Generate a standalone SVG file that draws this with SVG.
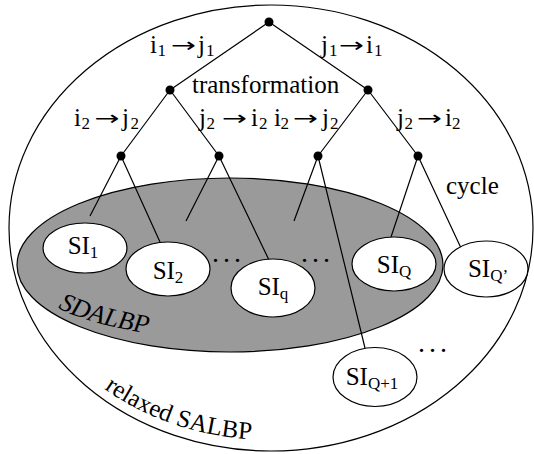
<svg xmlns="http://www.w3.org/2000/svg" width="534" height="454" viewBox="0 0 534 454">
<defs>
<style>
text{font-family:"Liberation Serif","Times New Roman",serif;font-size:25px;fill:#000}
.sub{font-size:17px}
.it{font-style:italic;font-size:26px}
.ar{font-family:"DejaVu Sans",sans-serif;font-size:20px}
.ln{stroke:#000;stroke-width:1.2;fill:none}
.si{fill:#fff;stroke:#000;stroke-width:1.2}
.dot{fill:#000}
.dots{letter-spacing:4px;font-size:28px}
</style>
<path id="pSD" d="M 58 308 A 211 74 0 0 0 230 339"/>
<path id="pRS" d="M 104 388.7 A 256 212 0 0 0 330 434.3"/>
</defs>
<g id="relaxed-SALBP">
<ellipse cx="271" cy="228" rx="262" ry="223" fill="none" stroke="#000" stroke-width="1.2"/>
<text><textPath href="#pRS" startOffset="0">relaxed SALBP</textPath></text>
</g>
<g id="SDALBP">
<ellipse cx="230" cy="265" rx="213" ry="87" fill="#9a9a9a" stroke="#000" stroke-width="1.2"/>
<text class="it"><textPath href="#pSD" startOffset="0">SDALBP</textPath></text>
</g>
<g id="connectors">
<path class="ln" d="M269 22 L170 90 M269 22 L368 90"/>
<path class="ln" d="M170 90 L121 156 M170 90 L219 156 M368 90 L318 156 M368 90 L418 156"/>
<path class="ln" d="M121 156 L90 216 M121 156 L160 242"/>
<path class="ln" d="M219 156 L186 221 M219 156 L269 260"/>
<path class="ln" d="M318 156 L294 221 M318 156 L365 348"/>
<path class="ln" d="M418 156 L391 237 M418 156 L461 248"/>
</g>
<g id="tree-nodes">
<circle class="dot" cx="269" cy="22" r="4.5"/>
<circle class="dot" cx="170" cy="90" r="4.5"/>
<circle class="dot" cx="368" cy="90" r="4.5"/>
<circle class="dot" cx="121" cy="156" r="4.5"/>
<circle class="dot" cx="219" cy="156" r="4.5"/>
<circle class="dot" cx="318" cy="156" r="4.5"/>
<circle class="dot" cx="418" cy="156" r="4.5"/>
</g>
<g id="SI1"><ellipse class="si" cx="85" cy="248" rx="42" ry="25"/><text x="83" y="254" text-anchor="middle">SI<tspan class="sub" dy="4">1</tspan></text></g>
<g id="SI2"><ellipse class="si" cx="168" cy="269" rx="42" ry="27"/><text x="168" y="279" text-anchor="middle">SI<tspan class="sub" dy="4">2</tspan></text></g>
<g id="SIq"><ellipse class="si" cx="273" cy="288" rx="42" ry="29"/><text x="273" y="295" text-anchor="middle">SI<tspan class="sub" dy="4">q</tspan></text></g>
<g id="SIQ"><ellipse class="si" cx="394" cy="264" rx="42" ry="27"/><text x="394" y="273" text-anchor="middle">SI<tspan class="sub" dy="4">Q</tspan></text></g>
<g id="SIQp"><ellipse class="si" cx="486" cy="269" rx="42" ry="28"/><text x="488" y="277" text-anchor="middle">SI<tspan class="sub" dy="4">Q’</tspan></text></g>
<g id="SIQ1"><ellipse class="si" cx="375" cy="377" rx="42" ry="29.5"/><text x="372" y="385" text-anchor="middle">SI<tspan class="sub" dy="4">Q+1</tspan></text></g>
<g id="labels">
<text><tspan x="150" y="53">i</tspan><tspan class="sub" x="157.5" y="56">1</tspan><tspan x="198" y="53">j</tspan><tspan class="sub" x="206" y="56">1</tspan></text>
<text class="ar" x="171" y="52" textLength="25" lengthAdjust="spacingAndGlyphs">→</text>
<text><tspan x="321" y="53">j</tspan><tspan class="sub" x="329" y="56">1</tspan><tspan x="366" y="53">i</tspan><tspan class="sub" x="374" y="56">1</tspan></text>
<text class="ar" x="339" y="52" textLength="25" lengthAdjust="spacingAndGlyphs">→</text>
<text x="192" y="93">transformation</text>
<text><tspan x="74" y="126">i</tspan><tspan class="sub" x="81.5" y="129">2</tspan><tspan x="122" y="126">j</tspan><tspan class="sub" x="130.5" y="129">2</tspan></text>
<text class="ar" x="94.5" y="125" textLength="25" lengthAdjust="spacingAndGlyphs">→</text>
<text><tspan x="199" y="126">j</tspan><tspan class="sub" x="206.5" y="129">2</tspan><tspan x="251" y="126">i</tspan><tspan class="sub" x="259" y="129">2</tspan></text>
<text class="ar" x="222" y="125" textLength="25" lengthAdjust="spacingAndGlyphs">→</text>
<text><tspan x="274" y="126">i</tspan><tspan class="sub" x="280.5" y="129">2</tspan><tspan x="322" y="126">j</tspan><tspan class="sub" x="330" y="129">2</tspan></text>
<text class="ar" x="293" y="125" textLength="25" lengthAdjust="spacingAndGlyphs">→</text>
<text><tspan x="397" y="126">j</tspan><tspan class="sub" x="404.5" y="129">2</tspan><tspan x="445" y="126">i</tspan><tspan class="sub" x="452" y="129">2</tspan></text>
<text class="ar" x="417" y="125" textLength="25" lengthAdjust="spacingAndGlyphs">→</text>
<text x="446" y="194">cycle</text>
<text class="dots" x="212" y="262">...</text>
<text class="dots" x="301" y="262">...</text>
<text class="dots" x="418" y="352">...</text>
</g>
</svg>
